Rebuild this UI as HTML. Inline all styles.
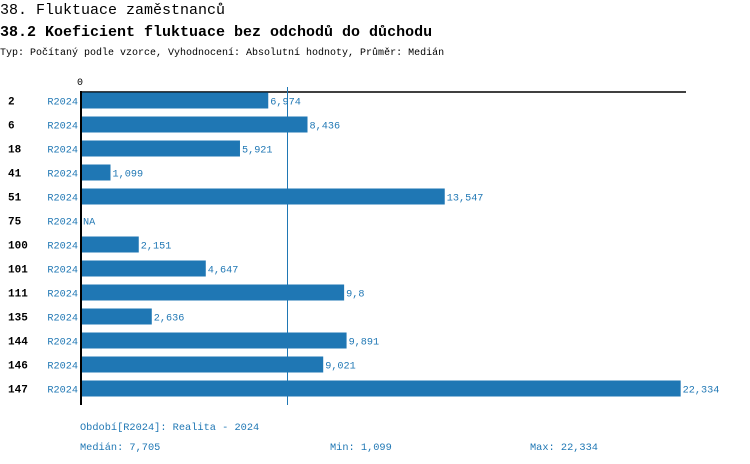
<!DOCTYPE html>
<html><head><meta charset="utf-8"><style>
html,body{margin:0;padding:0;background:#fff;}
svg{display:block;font-family:"Liberation Mono",monospace;}
</style></head><body>
<svg width="750" height="464" xmlns="http://www.w3.org/2000/svg">
<text x="0" y="14" font-size="15" fill="#000">38. Fluktuace zaměstnanců</text>
<text x="0" y="36" font-size="15" font-weight="bold" fill="#000">38.2 Koeficient fluktuace bez odchodů do důchodu</text>
<text x="0" y="55" font-size="10" fill="#000">Typ: Počítaný podle vzorce, Vyhodnocení: Absolutní hodnoty, Průměr: Medián</text>
<text x="77" y="85" font-size="10" fill="#000">0</text>
<line x1="80" y1="92" x2="686" y2="92" stroke="#000" stroke-width="1.5"/>
<g id="bars" font-size="10.2"></g>
<line x1="287.5" y1="87" x2="287.5" y2="405" stroke="#1f77b4" stroke-width="1"/>
<line x1="81" y1="91" x2="81" y2="405" stroke="#000" stroke-width="2"/>
<text x="80" y="430" font-size="10.3" fill="#1f77b4">Období[R2024]: Realita - 2024</text>
<text x="80" y="450" font-size="10.3" fill="#1f77b4">Medián: 7,705</text>
<text x="330" y="450" font-size="10.3" fill="#1f77b4">Min: 1,099</text>
<text x="530" y="450" font-size="10.3" fill="#1f77b4">Max: 22,334</text>
</svg>
<script>
var d=[["2",6.974,"6,974"],["6",8.436,"8,436"],["18",5.921,"5,921"],["41",1.099,"1,099"],["51",13.547,"13,547"],["75",null,"NA"],["100",2.151,"2,151"],["101",4.647,"4,647"],["111",9.8,"9,8"],["135",2.636,"2,636"],["144",9.891,"9,891"],["146",9.021,"9,021"],["147",22.334,"22,334"]];
var g=document.getElementById("bars"),s="";
d.forEach(function(r,i){var c=100.5+24*i;var w=r[1]==null?0:r[1]*26.85;
s+='<text x="8" y="'+(c+4)+'" font-weight="bold" font-size="11" fill="#000">'+r[0]+'</text>';
s+='<text x="78" y="'+(c+4)+'" text-anchor="end" fill="#1f77b4">R2024</text>';
if(w)s+='<rect x="81" y="'+(c-8)+'" width="'+w+'" height="16" fill="#1f77b4"/>';
s+='<text x="'+(83+w)+'" y="'+(c+4)+'" fill="#1f77b4">'+r[2]+'</text>';});
g.innerHTML=s;
</script>
</body></html>
